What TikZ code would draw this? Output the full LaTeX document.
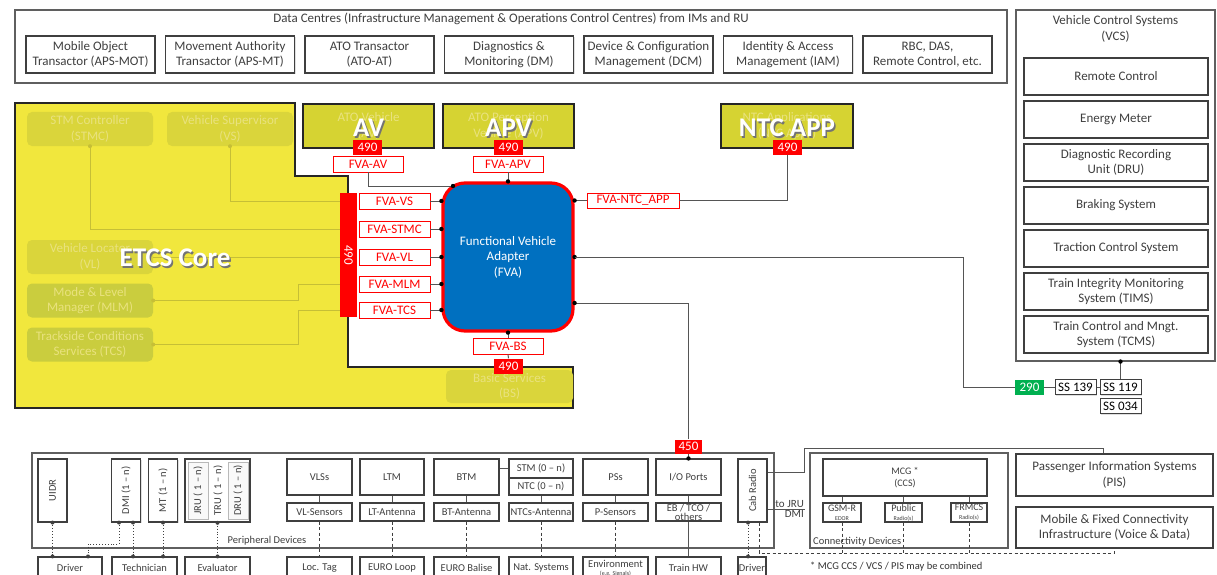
\documentclass[tikz,border=0pt]{standalone}
\usepackage{fontspec}
\setmainfont{Carlito}
\usepackage{graphicx}
\usepackage{xcolor}
\usepackage{tikz}
\usetikzlibrary{arrows.meta, positioning, shadows}

\definecolor{inkgray}{HTML}{3F3F3F}
\definecolor{wiregray}{HTML}{555555}
\definecolor{framegray}{HTML}{5F5F5F}
\definecolor{coreyel}{HTML}{F1E73D}
\definecolor{appyel}{HTML}{D6D332}
\definecolor{fadeyel}{HTML}{DAD53B}
\definecolor{fadegrn}{HTML}{CACD3E}
\definecolor{fadetxt}{HTML}{E9E27E}
\definecolor{fadewire}{HTML}{C6BF36}
\definecolor{fvablue}{HTML}{0070C0}
\definecolor{ifred}{HTML}{FF0000}
\definecolor{ifgreen}{HTML}{00B050}

\begin{document}
\begin{tikzpicture}[
    x=1pt, y=-1pt,
    f13/.style={font=\fontsize{13}{15.5}\selectfont},
    f10/.style={font=\fontsize{10.5}{12}\selectfont},
    castshadow/.style={drop shadow={shadow xshift=1.3pt, shadow yshift=-1.3pt, opacity=0.25}},
    box/.style={rectangle, draw=inkgray, line width=1.1pt, fill=white, text=inkgray, align=center, inner sep=1pt, f13, castshadow},
    sbox/.style={box, f10},
    outer/.style={rectangle, draw=framegray, line width=1.1pt, fill=white, castshadow},
    fade/.style={rectangle, rounded corners=5pt, fill=fadeyel, text=fadetxt, align=center, f13, minimum width=126pt, minimum height=34pt},
    app/.style={rectangle, draw=black!85, line width=2.2pt, fill=appyel, text=fadetxt, align=center, f13, minimum width=131pt, minimum height=44pt},
    bigw/.style={text=white, font=\fontsize{27}{27}\selectfont\bfseries},
    bigs/.style={text=black!55, font=\fontsize{27}{27}\selectfont\bfseries},
    num/.style={rectangle, fill=ifred, text=white, inner sep=0pt, minimum width=29pt, minimum height=15pt, f13},
    fvatag/.style={rectangle, draw=ifred, line width=0.9pt, fill=white, text=ifred, inner sep=0pt, minimum width=71pt, minimum height=16pt, f13, castshadow},
    ssbox/.style={rectangle, draw=inkgray, line width=1pt, fill=white, text=black, inner sep=0pt, minimum width=41pt, minimum height=15pt, f13, castshadow},
    tall/.style={sbox, minimum width=29pt, minimum height=63pt, inner sep=0pt},
    short/.style={sbox, minimum width=65pt, minimum height=36pt},
    tagrow/.style={sbox, minimum width=65pt, minimum height=18pt, inner sep=0pt},
    bot/.style={sbox, minimum width=65pt, minimum height=22pt, inner sep=0pt},
    radio/.style={sbox, minimum height=19pt, inner sep=0pt, font=\fontsize{10}{10}\selectfont},
    wire/.style={draw=wiregray, line width=1pt},
    fwire/.style={draw=fadewire, line width=1pt},
    dotwire/.style={draw=inkgray, line width=0.9pt, dotted},
    dashwire/.style={draw=inkgray, line width=0.9pt, dash pattern=on 3pt off 2.5pt}
]
\useasboundingbox (0,0) rectangle (1217,575);
\clip (0,0) rectangle (1217,575);
\fill[white] (0,0) rectangle (1217,575);

% data centres
\node[outer, minimum width=992pt, minimum height=73pt] (dc) at (511,46.5) {};
\node[f13, text=inkgray] (dctitle) at (511,19) {Data Centres (Infrastructure Management \& Operations Control Centres) from IMs and RU};
\node[box, minimum width=129pt, minimum height=37pt] (mot) at (90.5,54.5) {Mobile Object\\Transactor (APS-MOT)};
\node[box, minimum width=129pt, minimum height=37pt] (mat) at (230,54.5) {Movement Authority\\Transactor (APS-MT)};
\node[box, minimum width=129pt, minimum height=37pt] (atoat) at (369.5,54.5) {ATO Transactor\\(ATO-AT)};
\node[box, minimum width=129pt, minimum height=37pt] (dm) at (509,54.5) {Diagnostics \&\\Monitoring (DM)};
\node[box, minimum width=129pt, minimum height=37pt] (dcm) at (648.5,54.5) {Device \& Configuration\\Management (DCM)};
\node[box, minimum width=129pt, minimum height=37pt] (iam) at (788,54.5) {Identity \& Access\\Management (IAM)};
\node[box, minimum width=129pt, minimum height=37pt] (rbc) at (927.5,54.5) {RBC, DAS,\\Remote Control, etc.};

% vehicle control systems
\node[outer, minimum width=199pt, minimum height=351pt] (vcs) at (1115.5,185.5) {};
\node[f13, text=inkgray, align=center] (vcstitle) at (1115.5,29) {Vehicle Control Systems\\(VCS)};
\node[box, minimum width=184pt, minimum height=37pt] (remote) at (1116,76.5) {Remote Control};
\node[box, minimum width=184pt, minimum height=37pt] (energy) at (1116,119.5) {Energy Meter};
\node[box, minimum width=184pt, minimum height=37pt] (dru) at (1116,162.5) {Diagnostic Recording\\Unit (DRU)};
\node[box, minimum width=184pt, minimum height=37pt] (braking) at (1116,205.5) {Braking System};
\node[box, minimum width=184pt, minimum height=37pt] (traction) at (1116,248.5) {Traction Control System};
\node[box, minimum width=184pt, minimum height=37pt] (tims) at (1116,291.5) {Train Integrity Monitoring\\System (TIMS)};
\node[box, minimum width=184pt, minimum height=37pt] (tcms) at (1116,334.5) {Train Control and Mngt.\\System (TCMS)};

\node[rectangle, fill=ifgreen, text=white, f13, inner sep=0pt, minimum width=29pt, minimum height=15pt] (g290) at (1029.5,387) {290};
\node[ssbox] (ss139) at (1075.5,387) {SS 139};
\node[ssbox, right=3pt of ss139] (ss119) {SS 119};
\node[ssbox, below=3pt of ss119] (ss034) {SS 034};
\draw[wire] (g290.east) -- (ss139.west);
\draw[wire] (ss139.east) -- (ss119.west);
\draw[wire] (ss119.north) -- (ss119.north |- vcs.south);
\fill[black] (ss119.north |- vcs.south) circle (2.2pt);

% ETCS core
\draw[line width=2.2pt, draw=black!85, fill=coreyel] (15,103) -- (295,103) -- (295,176) -- (348,176) -- (348,367) -- (573,367) -- (573,408) -- (15,408) -- cycle;
\node[fade] (stmc) at (90,129) {STM Controller\\(STMC)};
\node[fade] (vs) at (230,129) {Vehicle Supervisor\\(VS)};
\node[fade] (vl) at (90,257) {Vehicle Locator\\(VL)};
\node[fade, fill=fadegrn] (mlm) at (90,300.5) {Mode \& Level\\Manager (MLM)};
\node[fade, fill=fadegrn] (tcs) at (90,344.5) {Trackside Conditions\\Services (TCS)};
\node[fade, minimum width=127pt, minimum height=33pt] (bs) at (509.5,386.5) {Basic Services\\(BS)};

\node[rectangle, fill=ifred, minimum width=17pt, minimum height=124pt, inner sep=0pt] (bar) at (348.5,255) {};
\node[text=white, f13, rotate=-90] (barnum) at (bar.center) {490};
\node[fvatag] (tagvs) at (394.5,201) {FVA-VS};
\node[fvatag] (tagstmc) at (394.5,229) {FVA-STMC};
\node[fvatag] (tagvl) at (394.5,257) {FVA-VL};
\node[fvatag] (tagmlm) at (394.5,284) {FVA-MLM};
\node[fvatag] (tagtcs) at (394.5,310) {FVA-TCS};

\draw[fwire] (stmc.south) |- (bar.west |- tagstmc.west);
\draw[fwire] (vs.south) |- (bar.west |- tagvs.west);
\draw[fwire] (vl.east) -- (bar.west |- tagvl.west);
\draw[fwire] (mlm.east) -- ++(145,0) |- (bar.west |- tagmlm.west);
\draw[fwire] (tcs.east) -- ++(145,0) |- (bar.west |- tagtcs.west);
\fill[fadewire] (stmc.south) circle (2pt) (vs.south) circle (2pt) (mlm.east) circle (2pt) (tcs.east) circle (2pt);

\node[bigs] (coreshadow) at (176.5,259.5) {ETCS Core};
\node[bigw] (core) at (175,258) {ETCS Core};

% applications on top
\node[app] (av) at (368.5,126) {ATO Vehicle\\(AV)};
\node[bigs] (avshadow) at (370,129.5) {AV};
\node[bigw] (avtxt) at (368.5,128) {AV};
\node[app] (apv) at (508.5,126) {ATO Perception\\Vehicle (APV)};
\node[bigs] (apvshadow) at (510,129.5) {APV};
\node[bigw] (apvtxt) at (508.5,128) {APV};
\node[app, minimum width=132pt] (ntcapp) at (787,126) {NTC Applications\\(NTC Apps)};
\node[bigs] (ntcshadow) at (788.5,129.5) {NTC APP};
\node[bigw] (ntctxt) at (787,128) {NTC APP};

\node[num] (avnum) at (367.5,147.5) {490};
\node[num] (apvnum) at (508.5,147.5) {490};
\node[num] (ntcnum) at (787.5,147.5) {490};
\node[fvatag, minimum width=70pt] (tagav) at (368,164) {FVA-AV};
\node[fvatag, minimum width=70pt] (tagapv) at (508,164) {FVA-APV};
\node[fvatag, minimum width=92pt, minimum height=15pt] (tagntc) at (633,200.5) {FVA-NTC\_APP};

% functional vehicle adapter
\node[rectangle, rounded corners=22pt, draw=ifred, line width=3.2pt, fill=fvablue, text=white, align=center, f13, minimum width=130pt, minimum height=148pt] (fva) at (508,257) {Functional Vehicle\\Adapter\\(FVA)};
\node[fvatag, minimum width=70pt] (tagbs) at (508,346) {FVA-BS};
\node[num] (bsnum) at (508.5,366) {490};

\draw[wire] (tagvs.east) -- (fva.west |- tagvs.east);
\draw[wire] (tagstmc.east) -- (fva.west |- tagstmc.east);
\draw[wire] (tagvl.east) -- (fva.west |- tagvl.east);
\draw[wire] (tagmlm.east) -- (fva.west |- tagmlm.east);
\draw[wire] (tagtcs.east) -- (fva.west |- tagtcs.east);
\fill[black] (fva.west |- tagvs.east) circle (2.2pt) (fva.west |- tagstmc.east) circle (2.2pt) (fva.west |- tagvl.east) circle (2.2pt) (fva.west |- tagmlm.east) circle (2.2pt) (fva.west |- tagtcs.east) circle (2.2pt);

\coordinate (avjoin) at (453,186);
\draw[wire] (tagav.south) |- (avjoin);
\draw[wire] (tagapv.south) -- (fva.north);
\draw[wire] (fva.south) -- (tagbs.north);
\draw[wire] (tagbs.south) -- (bsnum.north);
\draw[wire] (fva.east |- tagntc.west) -- (tagntc.west);
\draw[wire] (tagntc.east) -| (ntcnum.south);
\fill[black] (avjoin) circle (2.2pt) (fva.north) circle (2.2pt) (fva.south) circle (2.2pt) (fva.east |- tagntc.west) circle (2.2pt) (fva.east) circle (2.2pt);

\coordinate (bend290) at (963,387);
\draw[wire] (fva.east) -| (bend290) -- (g290.west);

% peripheral devices
\node[outer, minimum width=742pt, minimum height=95pt, drop shadow={opacity=0}] (periph) at (403,500.5) {};
\node[f10, text=inkgray] (periphlbl) at (267,541) {Peripheral Devices};

\node[tall] (uidr) at (52.5,490.5) {\rotatebox{90}{UIDR}};
\node[tall] (dmi) at (126,490.5) {\rotatebox{90}{DMI (1 – n)}};
\node[tall] (mt) at (163,490.5) {\rotatebox{90}{MT (1 – n)}};
\node[tall, minimum width=65pt, line width=1.6pt] (recgrp) at (217.5,490.5) {};
\node[rectangle, draw=gray!55, fill=gray!5, line width=0.8pt, text=inkgray, f10, inner sep=0pt, minimum width=20pt, minimum height=57pt] (jru) at (198,490.5) {\rotatebox{90}{JRU ( 1 – n)}};
\node[f10, text=inkgray, inner sep=0pt] (tru) at (218,490.5) {\rotatebox{90}{TRU ( 1 – n)}};
\node[rectangle, draw=gray!55, fill=gray!5, line width=0.8pt, text=inkgray, f10, inner sep=0pt, minimum width=20pt, minimum height=57pt] (drurec) at (238,490.5) {\rotatebox{90}{DRU ( 1 – n)}};
\node[tall] (cab) at (752.5,490.5) {\rotatebox{90}{Cab Radio}};

\node[short] (vlss) at (319.5,477) {VLSs};
\node[short, minimum width=64pt] (ltm) at (392,477) {LTM};
\node[short] (btm) at (466.5,477) {BTM};
\node[sbox, minimum width=64pt, minimum height=19pt, inner sep=0pt] (stm) at (541,468.5) {STM (0 – n)};
\node[sbox, minimum width=64pt, minimum height=17pt, inner sep=0pt] (ntc) at (541,486.5) {NTC (0 – n)};
\node[short] (pss) at (615.5,477) {PSs};
\node[short] (io) at (688.5,477) {I/O Ports};

\node[tagrow] (vlsens) at (319.5,512) {VL-Sensors};
\node[tagrow, minimum width=64pt] (ltant) at (392,512) {LT-Antenna};
\node[tagrow] (btant) at (466.5,512) {BT-Antenna};
\node[tagrow, minimum width=64pt] (ntcant) at (541,512) {NTCs-Antenna};
\node[tagrow] (psens) at (615.5,512) {P-Sensors};
\node[tagrow, font=\fontsize{10.5}{9}\selectfont] (ebtco) at (688.5,512) {EB / TCO /\\others};

\node[bot, minimum width=64pt] (drv) at (70,568) {Driver};
\node[bot] (tech) at (144.5,568) {Technician};
\node[bot] (evalr) at (217.5,568) {Evaluator};
\node[bot] (loctag) at (319.5,568) {Loc. Tag};
\node[bot, minimum width=64pt] (euroloop) at (392,568) {EURO Loop};
\node[bot] (eurobal) at (466.5,568) {EURO Balise};
\node[bot, minimum width=64pt] (natsys) at (541,568) {Nat. Systems};
\node[bot, font=\fontsize{10.5}{8}\selectfont] (env) at (615.5,568) {Environment\\{\fontsize{6}{6}\selectfont (e.g. Signals)}};
\node[bot] (trainhw) at (688.5,568) {Train HW};
\node[bot, minimum width=28pt] (drv2) at (752,568) {Driver};

\node[num, minimum width=27pt, minimum height=14pt] (io450) at (688.5,446.5) {450};
\coordinate (fvaio) at ([yshift=-46pt]fva.east);
\draw[wire] (fvaio) -| (io450.north);
\draw[wire] (io450.south) -- (io.north);
\fill[black] (fvaio) circle (2.2pt) (io.north) circle (2.2pt);

\draw[wire] (vlss.south) -- (vlsens.north);
\draw[wire] (ltm.south) -- (ltant.north);
\draw[wire] (btm.south) -- (btant.north);
\draw[wire] (ntc.south) -- (ntcant.north);
\draw[wire] (pss.south) -- (psens.north);
\draw[wire] (io.south) -- (ebtco.north);
\draw[wire] (ebtco.south) -- (trainhw.north);
\draw[wire] (btm.east |- stm.west) -- (stm.west);

\draw[dashwire] (vlsens.south) -- (loctag.north);
\draw[dashwire] (ltant.south) -- (euroloop.north);
\draw[dashwire] (btant.south) -- (eurobal.north);
\draw[dashwire] (ntcant.south) -- (natsys.north);
\draw[dashwire] (psens.south) -- (env.north);

\coordinate (dmia) at ([xshift=-7pt]dmi.south);
\coordinate (dmib) at ([xshift=7pt]dmi.south);
\coordinate (dmibend) at (88,544);
\coordinate (caba) at ([xshift=-4.5pt]cab.south);
\draw[dotwire] (uidr.south) -- (uidr.south |- drv.north);
\draw[dotwire] (dmia) |- (dmibend) -- (dmibend |- drv.north);
\draw[dotwire] (dmib) -- (dmib |- tech.north);
\draw[dotwire] (mt.south) -- (mt.south |- tech.north);
\draw[dotwire] (recgrp.south) -- (recgrp.south |- evalr.north);
\draw[dotwire] (caba) -- (caba |- drv2.north);
\fill[inkgray] (uidr.south) circle (2pt) (uidr.south |- drv.north) circle (2pt)
  (dmia) circle (2pt) (dmibend |- drv.north) circle (2pt)
  (dmib) circle (2pt) (dmib |- tech.north) circle (2pt)
  (mt.south) circle (2pt) (mt.south |- tech.north) circle (2pt)
  (recgrp.south) circle (2pt) (recgrp.south |- evalr.north) circle (2pt)
  (caba) circle (2pt) (caba |- drv2.north) circle (2pt);

% connectivity devices and passenger side
\node[outer, minimum width=198pt, minimum height=95pt] (conndev) at (909,500.5) {};
\node[f10, text=inkgray, anchor=west, inner sep=1pt] (connlbl) at (812,542) {Connectivity Devices};
\node[sbox, minimum width=164pt, minimum height=37pt, font=\fontsize{10}{12}\selectfont] (mcg) at (905,477.5) {MCG *\\(CCS)};
\node[radio, minimum width=38pt] (gsmr) at (842,512.5) {GSM-R\\[-1pt]{\fontsize{6}{6}\selectfont EDOR}};
\node[radio, minimum width=37pt] (public) at (903.5,512.5) {Public\\[-1pt]{\fontsize{6}{6}\selectfont Radio(s)}};
\node[radio, minimum width=36pt] (frmcs) at (969,512.5) {FRMCS\\[-1pt]{\fontsize{6}{6}\selectfont Radio(s)}};
\draw[wire] (gsmr.north) -- (gsmr.north |- mcg.south);
\draw[wire] (public.north) -- (public.north |- mcg.south);
\draw[wire] (frmcs.north) -- (frmcs.north |- mcg.south);

\node[box, minimum width=197pt, minimum height=42pt] (pis) at (1114.5,475) {Passenger Information Systems\\(PIS)};
\node[box, minimum width=197pt, minimum height=41pt] (mfc) at (1114.5,527.5) {Mobile \& Fixed Connectivity\\Infrastructure (Voice \& Data)};

\coordinate (pisbend) at (1103,448);
\draw[wire] ([yshift=18pt]cab.east) -- ++(37,0) |- (pisbend) -- (pisbend |- pis.north);
\coordinate (jruend) at (805,509);
\draw[wire] (cab.east |- jruend) -- (jruend);
\node[font=\fontsize{11}{12}\selectfont, text=inkgray, anchor=south east, inner sep=1pt] (tojru) at (jruend) {to JRU};
\node[font=\fontsize{11}{12}\selectfont, text=inkgray, anchor=north east, inner sep=1pt] (todmi) at (jruend) {DMI};

\coordinate (dashrow) at (0,553);
\coordinate (cabb) at ([xshift=6.5pt]cab.south);
\draw[dashwire] (cabb) |- (mfc.south |- dashrow) -- (mfc.south);
\draw[dashwire] (gsmr.south) -- (gsmr.south |- dashrow);
\draw[dashwire] (public.south) -- (public.south |- dashrow);
\draw[dashwire] (frmcs.south) -- (frmcs.south |- dashrow);

\node[f10, text=black!80, anchor=west, inner sep=1pt] (note) at (809,567) {* MCG CCS / VCS / PIS may be combined};
\end{tikzpicture}
\end{document}
